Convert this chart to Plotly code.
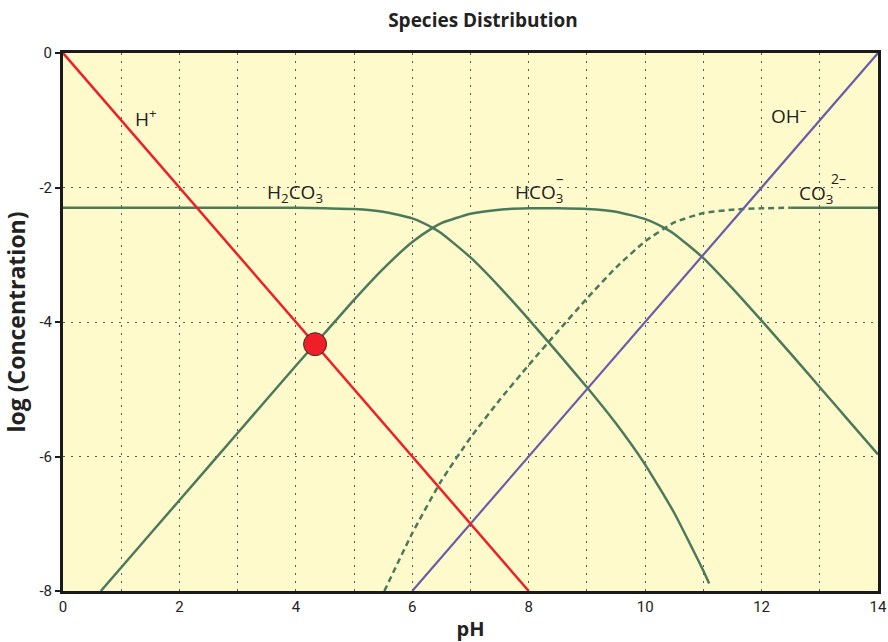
import plotly.graph_objects as go

# ---- data ----
ph_h = [0, 8]
log_h = [0, -8]

ph_oh = [6, 14]
log_oh = [-8, 0]

ph_h2co3 = [0, 1, 2, 3, 4, 4.5, 5, 5.5, 6, 6.35, 6.5, 7, 7.5, 8, 8.5, 9, 9.5, 10, 10.5, 11, 11.1]
log_h2co3 = [-2.30, -2.30, -2.30, -2.30, -2.30, -2.31, -2.32, -2.36, -2.46, -2.60, -2.68, -3.04,
             -3.48, -3.96, -4.46, -4.97, -5.51, -6.12, -6.84, -7.70, -7.89]

ph_hco3 = [0.65, 1, 2, 3, 4, 4.5, 5, 5.5, 6, 6.35, 6.5, 7, 7.5, 8, 8.5, 9, 9.5, 10, 10.33,
           10.5, 11, 11.5, 12, 12.5, 13, 13.5, 14]
log_hco3 = [-8.0, -7.65, -6.65, -5.65, -4.65, -4.16, -3.67, -3.21, -2.81, -2.60, -2.53, -2.39,
            -2.33, -2.31, -2.31, -2.32, -2.36, -2.47, -2.60, -2.69, -3.05, -3.50, -3.98, -4.47,
            -4.97, -5.47, -5.97]

ph_co3_dash = [5.52, 6, 6.5, 7, 7.5, 8, 8.5, 9, 9.5, 10, 10.5, 11, 11.5, 12, 12.5]
log_co3_dash = [-8.0, -7.14, -6.36, -5.72, -5.16, -4.64, -4.14, -3.65, -3.19, -2.80, -2.52,
                -2.38, -2.33, -2.31, -2.30]
ph_co3_solid = [12.5, 13, 14]
log_co3_solid = [-2.30, -2.30, -2.30]

eq_ph = [4.33]
eq_log = [-4.33]

x_ticks = [0, 2, 4, 6, 8, 10, 12, 14]
y_ticks = [0, -2, -4, -6, -8]

GREEN = "#4b7a5b"
RED = "#ee1f26"
PURPLE = "#6a5ca8"
FONT = "Open Sans"
TICKFONT = "Liberation Sans Narrow, Roboto, Open Sans"
GRID = "#5a5a5a"

fig = go.Figure()
line_g = dict(color=GREEN, width=2.5, shape="spline", smoothing=0.5)
fig.add_trace(go.Scatter(x=ph_h2co3, y=log_h2co3, mode="lines", line=line_g))
fig.add_trace(go.Scatter(x=ph_hco3, y=log_hco3, mode="lines", line=line_g))
fig.add_trace(go.Scatter(x=ph_co3_dash, y=log_co3_dash, mode="lines",
                         line=dict(color=GREEN, width=2.5, shape="spline", smoothing=0.5, dash="6px,4px")))
fig.add_trace(go.Scatter(x=ph_co3_solid, y=log_co3_solid, mode="lines", line=line_g))
fig.add_trace(go.Scatter(x=ph_oh, y=log_oh, mode="lines", line=dict(color=PURPLE, width=2.2)))
fig.add_trace(go.Scatter(x=ph_h, y=log_h, mode="lines", line=dict(color=RED, width=2.5)))
fig.add_trace(go.Scatter(x=eq_ph, y=eq_log, mode="markers",
                         marker=dict(size=23, color=RED, line=dict(color="#3a2a2a", width=1))))

ann = [
    dict(x=1.20, y=-0.96, text="H<sup>+</sup>", xanchor="left", yanchor="middle"),
    dict(x=3.99, y=-2.08, text="H<sub>2</sub>CO<sub>3</sub>", xanchor="center", yanchor="middle"),
    dict(x=8.62, y=-2.08, text="HCO<sub>3</sub>", xanchor="right", yanchor="middle"),
    dict(x=8.54, y=-1.86, text="–", xanchor="center", yanchor="middle", size=15),
    dict(x=12.13, y=-0.92, text="OH<sup>–</sup>", xanchor="left", yanchor="middle"),
    dict(x=12.60, y=-2.10, text="CO<sub>3</sub>", xanchor="left", yanchor="middle"),
    dict(x=13.32, y=-1.86, text="2–", xanchor="center", yanchor="middle", size=14),
]
for a in ann:
    sz = a.pop("size", 19)
    fig.add_annotation(**a, showarrow=False, font=dict(family=FONT, size=sz, color="#222"))

fig.update_layout(
    width=888, height=642,
    margin=dict(l=63, r=10, t=53, b=51, autoexpand=False),
    paper_bgcolor="white",
    plot_bgcolor="#fffacc",
    showlegend=False,
    title=dict(text="<b>Species Distribution</b>", x=483 / 888, xanchor="center",
               y=1 - 20 / 642, yanchor="middle", yref="container",
               font=dict(family=FONT, size=19, color="#222")),
    font=dict(family=FONT, color="#222"),
)
fig.update_xaxes(
    range=[0, 14], tickvals=x_ticks, ticktext=[str(v) for v in x_ticks],
    showline=True, linewidth=3, linecolor="#1a1a1a", mirror=True, automargin=False,
    ticks="", tickfont=dict(family=TICKFONT, size=15, color="#222"),
    showgrid=False, zeroline=False,
    minor=dict(dtick=1, showgrid=True, gridcolor=GRID, griddash="1.5px,6.5px", gridwidth=1.2),
    title=dict(text="<b>pH</b>", font=dict(family=FONT, size=20, color="#222"), standoff=12),
)
fig.update_yaxes(
    range=[-8, 0], tickvals=y_ticks, ticktext=[str(v) for v in y_ticks],
    showline=True, linewidth=3, linecolor="#1a1a1a", mirror=True, automargin=False,
    ticks="outside", ticklen=5, tickwidth=1.5, tickcolor="#1a1a1a",
    tickfont=dict(family=TICKFONT, size=15, color="#222"),
    showgrid=True, gridcolor=GRID, griddash="1.5px,6.5px", gridwidth=1.2, zeroline=False,
    title=dict(text="<b>log (Concentration)</b>", font=dict(family=FONT, size=23, color="#222"), standoff=10),
)

fig.write_html("out.html")
